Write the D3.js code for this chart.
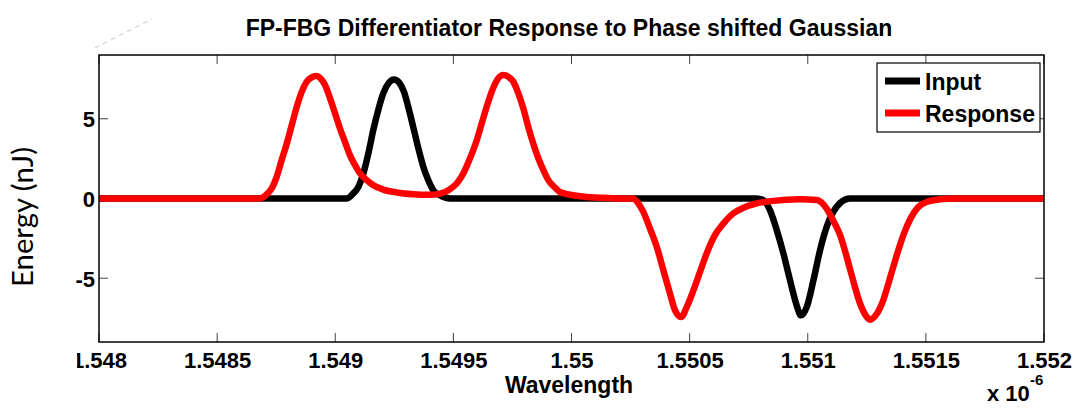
<!DOCTYPE html>
<html><head><meta charset="utf-8">
<script src="https://cdn.jsdelivr.net/npm/d3@7"></script>
<style>
html,body{margin:0;padding:0;background:#fff;}
svg{display:block;}
</style></head>
<body>
<svg id="chart" width="1078" height="408"></svg>
<script>
// ---- data (wavelength in units of 1e-6 m, energy in nJ) ----
const xTicks = [1.548, 1.5485, 1.549, 1.5495, 1.55, 1.5505, 1.551, 1.5515, 1.552];
const xTickLabels = ["1.548", "1.5485", "1.549", "1.5495", "1.55", "1.5505", "1.551", "1.5515", "1.552"];
const yTicks = [-5, 0, 5];
const yTickLabels = ["-5", "0", "5"];
const seriesNames = ["Input", "Response"];

const inputX = [1.548, 1.549048, 1.549076, 1.549098, 1.549119, 1.549140, 1.549161, 1.549182, 1.549203, 1.549225,
  1.549249, 1.549271, 1.549291, 1.549309, 1.549330, 1.549352, 1.549373, 1.549394, 1.549415, 1.549443, 1.549486,
  1.550784, 1.550812, 1.550840, 1.550869, 1.550897, 1.550925, 1.550953, 1.550971, 1.550996, 1.551024, 1.551052,
  1.551080, 1.551108, 1.551137, 1.551179, 1.552];
const inputY = [0, 0, 0.31, 0.73, 1.57, 2.82, 4.29, 5.54, 6.59, 7.22,
  7.47, 7.26, 6.69, 5.75, 4.49, 3.14, 1.98, 1.15, 0.52, 0.21, 0,
  0, -0.1, -0.73, -1.99, -3.45, -5.13, -6.7, -7.33, -6.8, -5.13, -3.24,
  -1.78, -0.84, -0.28, 0, 0];

const responseX = [1.548, 1.548681, 1.548710, 1.548731, 1.548752, 1.548773, 1.548795, 1.548816, 1.548837, 1.548858,
  1.548879, 1.548900, 1.548919, 1.548938, 1.548957, 1.548978, 1.548999, 1.549020, 1.549041, 1.549062, 1.549084,
  1.549105, 1.549133, 1.549161, 1.549203, 1.549260, 1.549330, 1.549401, 1.549443, 1.549479, 1.549514, 1.549542,
  1.549570, 1.549599, 1.549620, 1.549641, 1.549662, 1.549683, 1.549711, 1.549733, 1.549754, 1.549775, 1.549796,
  1.549817, 1.549838, 1.549860, 1.549881, 1.549902, 1.549930, 1.549951, 1.550036, 1.550121, 1.550205,
  1.550260, 1.550283, 1.550304, 1.550332, 1.550361, 1.550389, 1.550417, 1.550438, 1.550464,
  1.550488, 1.550516, 1.550544, 1.550572, 1.550607, 1.550643, 1.550684, 1.550726, 1.550784, 1.550853,
  1.550967, 1.551038, 1.551080, 1.551107, 1.551137, 1.551165, 1.551192, 1.551221, 1.551250, 1.551264,
  1.551289, 1.551319, 1.551348, 1.551378, 1.551407, 1.551437, 1.551467, 1.551505, 1.551560, 1.551623, 1.552];
const responseY = [0, 0, 0.27, 0.63, 1.36, 2.40, 3.45, 4.6, 5.75, 6.69,
  7.32, 7.6, 7.68, 7.53, 7.11, 6.28, 5.34, 4.39, 3.55, 2.72, 2.09,
  1.57, 1.15, 0.83, 0.56, 0.38, 0.27, 0.23, 0.31, 0.52, 0.94, 1.57,
  2.51, 3.66, 4.71, 5.75, 6.69, 7.38, 7.74, 7.63, 7.32, 6.59, 5.65,
  4.49, 3.45, 2.51, 1.78, 1.15, 0.69, 0.41, 0.14, 0.05, 0,
  0, -0.31, -0.84, -1.88, -3.04, -4.5, -5.96, -7.0, -7.43,
  -6.8, -5.76, -4.6, -3.45, -2.3, -1.57, -0.94, -0.6, -0.31, -0.15,
  -0.05, -0.1, -0.63, -1.36, -2.3, -3.67, -5.13, -6.57, -7.43, -7.6,
  -7.3, -6.4, -5.0, -3.5, -2.2, -1.2, -0.55, -0.2, -0.05, 0, 0];

// ---- layout ----
const svg = d3.select("#chart");
const L = 99, R = 1044, T = 55, B = 342;
const x = d3.scaleLinear().domain([1.548, 1.552]).range([L, R]);
const y = d3.scaleLinear().domain([-9, 9]).range([B, T]);
const bold = "'Liberation Sans', Arial, Helvetica, sans-serif";

// faint artifact line top-left
svg.append("line").attr("x1", 95).attr("y1", 48).attr("x2", 152).attr("y2", 19)
  .attr("stroke", "#c8c8c8").attr("stroke-width", 1).attr("stroke-dasharray", "5,4");

// title
svg.append("text").attr("x", 569).attr("y", 36).attr("text-anchor", "middle")
  .attr("font-family", bold).attr("font-weight", "bold").attr("font-size", 23)
  .text("FP-FBG Differentiator Response to Phase shifted Gaussian");

// ticks (inward, all four sides)
const tickLen = 9;
const tk = svg.append("g").attr("stroke", "#444").attr("stroke-width", 1);
xTicks.forEach(v => {
  tk.append("line").attr("x1", x(v)).attr("x2", x(v)).attr("y1", B).attr("y2", B - tickLen);
  tk.append("line").attr("x1", x(v)).attr("x2", x(v)).attr("y1", T).attr("y2", T + tickLen);
});
yTicks.forEach(v => {
  tk.append("line").attr("x1", L).attr("x2", L + tickLen).attr("y1", y(v)).attr("y2", y(v));
  tk.append("line").attr("x1", R).attr("x2", R - tickLen).attr("y1", y(v)).attr("y2", y(v));
});

// x tick labels via axis (left label partly hidden as in reference)
svg.append("clipPath").attr("id", "xlclip").append("rect")
  .attr("x", 77).attr("y", -5).attr("width", 1001).attr("height", 45);
const xAxis = d3.axisBottom(x).tickValues(xTicks).tickSize(0).tickPadding(0)
  .tickFormat((d, i) => xTickLabels[i]);
const gx = svg.append("g").attr("transform", `translate(0,${B})`).attr("clip-path", "url(#xlclip)").call(xAxis);
gx.select(".domain").remove();
gx.selectAll("text").attr("font-family", bold).attr("font-weight", "bold").attr("font-size", 22)
  .attr("fill", "#000").attr("dy", null).attr("y", 26);

const yAxis = d3.axisLeft(y).tickValues(yTicks).tickSize(0).tickPadding(0)
  .tickFormat((d, i) => yTickLabels[i]);
const gy = svg.append("g").attr("transform", `translate(${L - 4},0)`).call(yAxis);
gy.select(".domain").remove();
gy.selectAll("text").attr("font-family", bold).attr("font-weight", "bold").attr("font-size", 22)
  .attr("fill", "#000").attr("dy", "0.36em");

// series
const line = d3.line().curve(d3.curveMonotoneX).x(d => x(d[0])).y(d => y(d[1]));
const inputData = inputX.map((v, i) => [v, inputY[i]]);
const respData = responseX.map((v, i) => [v, responseY[i]]);
svg.append("path").datum(inputData).attr("d", line).attr("fill", "none")
  .attr("stroke", "#000").attr("stroke-width", 6.5).attr("stroke-linejoin", "round");
svg.append("path").datum(respData).attr("d", line).attr("fill", "none")
  .attr("stroke", "#ff0000").attr("stroke-width", 6.5).attr("stroke-linejoin", "round");

// box
svg.append("rect").attr("x", L).attr("y", T).attr("width", R - L).attr("height", B - T)
  .attr("fill", "none").attr("stroke", "#000").attr("stroke-width", 1.5);

// axis labels
svg.append("text").attr("x", 569).attr("y", 393).attr("text-anchor", "middle")
  .attr("font-family", bold).attr("font-weight", "bold").attr("font-size", 23).text("Wavelength");
svg.append("text").attr("transform", "translate(33,217) rotate(-90)").attr("text-anchor", "middle")
  .attr("font-family", "Lato, 'Open Sans', sans-serif").attr("font-size", 28)
  .attr("textLength", 140).attr("lengthAdjust", "spacingAndGlyphs").text("Energy (nJ)");

// exponent
svg.append("text").attr("x", 987).attr("y", 401).attr("font-family", bold).attr("font-weight", "bold")
  .attr("font-size", 22).text("x 10");
svg.append("text").attr("x", 1030).attr("y", 385).attr("font-family", bold).attr("font-weight", "bold")
  .attr("font-size", 15).text("-6");

// legend
const lg = svg.append("g");
lg.append("rect").attr("x", 877).attr("y", 63).attr("width", 163).attr("height", 69)
  .attr("fill", "#fff").attr("stroke", "#000").attr("stroke-width", 1.2);
const colors = ["#000", "#ff0000"];
seriesNames.forEach((n, i) => {
  const ly = 81 + i * 32;
  lg.append("line").attr("x1", 885).attr("x2", 920).attr("y1", ly).attr("y2", ly)
    .attr("stroke", colors[i]).attr("stroke-width", 7);
  lg.append("text").attr("x", 925).attr("y", ly + 8.5).attr("font-family", bold).attr("font-weight", "bold")
    .attr("font-size", 23).text(n);
});
</script>
</body></html>
